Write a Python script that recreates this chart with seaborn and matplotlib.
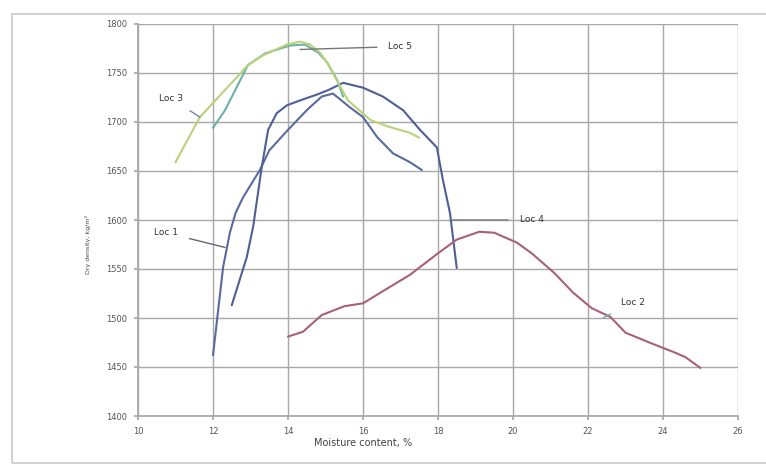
import matplotlib
matplotlib.use("Agg")
import matplotlib.pyplot as plt
import seaborn as sns
import pandas as pd
from matplotlib.patches import Rectangle

# ---- data ----
loc1_x = [12.0, 12.27, 12.45, 12.6, 12.8, 13.25, 13.5, 14.0, 14.5, 14.9, 15.2, 15.65, 16.0, 16.37, 16.8, 17.25, 17.57]
loc1_y = [1462, 1552, 1587, 1607, 1623, 1651, 1671, 1692, 1712, 1726, 1729, 1715, 1705, 1685, 1668, 1659, 1651]

loc4_x = [12.5, 12.9, 13.07, 13.3, 13.47, 13.7, 13.97, 14.32, 14.77, 15.1, 15.47, 16.0, 16.53, 17.07, 17.52, 17.97, 18.13, 18.32, 18.5]
loc4_y = [1513, 1562, 1593, 1654, 1692, 1709, 1717, 1722, 1728, 1733, 1740, 1735, 1726, 1712, 1692, 1674, 1641, 1607, 1551]

loc2_x = [14.0, 14.4, 14.9, 15.5, 16.0, 16.6, 17.25, 18.0, 18.5, 19.1, 19.5, 20.1, 20.5, 21.1, 21.6, 22.1, 22.6, 23.0, 23.7, 24.3, 24.6, 25.0]
loc2_y = [1481, 1486, 1503, 1512, 1515, 1529, 1544, 1566, 1580, 1588, 1587, 1577, 1566, 1546, 1526, 1510, 1501, 1485, 1474, 1465, 1460, 1449]

loc3_x = [11.0, 11.65, 12.45, 12.93, 13.33, 13.97, 14.32, 14.59, 14.85, 15.05, 15.6, 16.2, 16.7, 17.25, 17.5]
loc3_y = [1659, 1705, 1738, 1758, 1768, 1779, 1782, 1779, 1771, 1760, 1722, 1702, 1695, 1689, 1684]

loc5_x = [12.0, 12.32, 12.93, 13.39, 14.05, 14.45, 14.8, 15.04, 15.31, 15.47]
loc5_y = [1694, 1712, 1758, 1770, 1778, 1779, 1771, 1761, 1743, 1726]

x_ticks = [10, 12, 14, 16, 18, 20, 22, 24, 26]
y_ticks = [1400, 1450, 1500, 1550, 1600, 1650, 1700, 1750, 1800]

series = {
    "Loc 1": (loc1_x, loc1_y, "#5b6a9e"),
    "Loc 4": (loc4_x, loc4_y, "#4f5f96"),
    "Loc 2": (loc2_x, loc2_y, "#a8607a"),
    "Loc 5": (loc5_x, loc5_y, "#6fb0a8"),
    "Loc 3": (loc3_x, loc3_y, "#b9d27a"),
}

frames = []
for name, (xs, ys, _) in series.items():
    frames.append(pd.DataFrame({"x": xs, "y": ys, "loc": name}))
df = pd.concat(frames, ignore_index=True)

sns.set_theme(style="white")
plt.rcParams['font.family'] = ['DejaVu Sans']

fig = plt.figure(figsize=(7.66, 4.68), dpi=100)
ax = fig.add_axes([138/766, 1 - 416/468, 600/766, 392/468])

# figure border
fig.patches.append(Rectangle((12/766, 1 - 463/468), 760/766, 449/468, transform=fig.transFigure,
                             fill=False, edgecolor="#c8c8c8", linewidth=1.2, zorder=0))

palette = {k: v[2] for k, v in series.items()}
sns.lineplot(data=df, x="x", y="y", hue="loc", palette=palette, sort=False,
             estimator=None, linewidth=1.5, legend=False, ax=ax)

ax.set_xlim(10, 26)
ax.set_ylim(1400, 1800)
ax.set_xticks(x_ticks)
ax.set_yticks(y_ticks)
ax.set_xticklabels([str(t) for t in x_ticks], fontsize=6, color="#555555")
ax.set_yticklabels([str(t) for t in y_ticks], fontsize=6, color="#555555")
ax.grid(True, color="#a8a8a8", linewidth=1.0)
ax.set_axisbelow(True)
for s in ax.spines.values():
    s.set_visible(False)
ax.spines["left"].set_visible(True)
ax.spines["left"].set_color("#a8a8a8")
ax.spines["bottom"].set_visible(True)
ax.spines["bottom"].set_color("#a8a8a8")
ax.tick_params(axis="both", length=3, color="#a8a8a8", pad=5, direction="out",
               left=True, bottom=True)

ax.set_xlabel("")
ax.set_ylabel("")
ax.text(16, -0.068, "Moisture content, %", transform=ax.get_xaxis_transform(),
        ha="center", va="center", fontsize=7, color="#444444")
fig.text(88/766, 1 - 245/468, "Dry density, kg/m³", rotation=90, ha="center", va="center",
         fontsize=4.5, color="#444444")

# annotations
ann = [
    ("Loc 3", (11.65, 1705), (10.88, 1724), "#6a88b0"),
    ("Loc 5", (14.32, 1774), (17.0, 1777), "#777777"),
    ("Loc 1", (12.32, 1572), (10.75, 1587), "#666677"),
    ("Loc 4", (18.35, 1600), (20.5, 1600), "#777777"),
    ("Loc 2", (22.4, 1500), (23.2, 1516), "#6fb0a8"),
]
for txt, xy, xytext, c in ann:
    ax.annotate(txt, xy=xy, xytext=xytext, fontsize=6.5, color="#333333",
                ha="center", va="center",
                arrowprops=dict(arrowstyle="-", color=c, lw=1.0, shrinkA=6, shrinkB=0))

fig.savefig("out.png", dpi=100, facecolor="white")
